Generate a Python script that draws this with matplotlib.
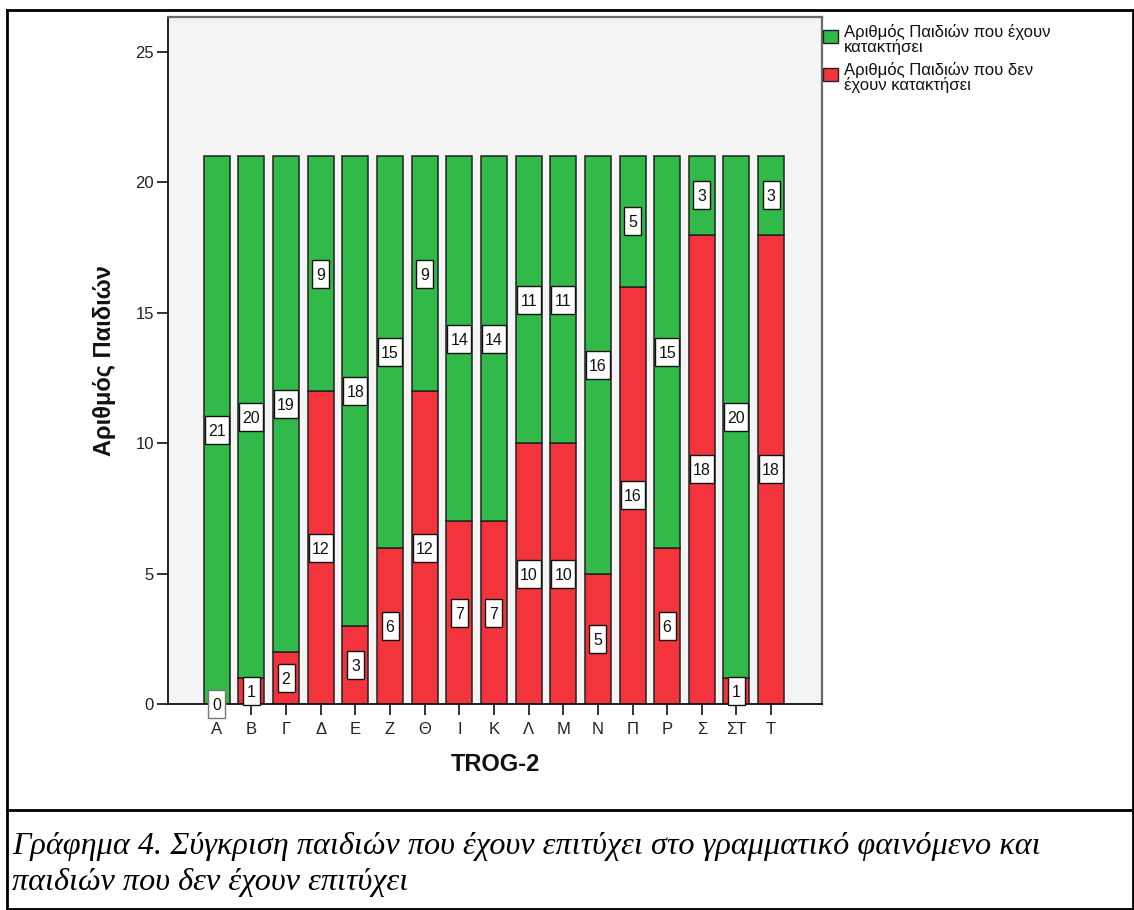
import matplotlib
matplotlib.use('Agg')
import matplotlib.pyplot as plt
from matplotlib.patches import Rectangle
from matplotlib.lines import Line2D
from matplotlib.transforms import ScaledTranslation
import numpy as np

# ---------------- data ----------------
categories = ['Α', 'Β', 'Γ', 'Δ', 'Ε', 'Ζ', 'Θ', 'Ι', 'Κ', 'Λ', 'Μ', 'Ν', 'Π', 'Ρ', 'Σ', 'ΣΤ', 'Τ']
acquired = [21, 20, 19, 9, 18, 15, 9, 14, 14, 11, 11, 16, 5, 15, 3, 20, 3]
not_acquired = [0, 1, 2, 12, 3, 6, 12, 7, 7, 10, 10, 5, 16, 6, 18, 1, 18]
series_labels = ['Αριθμός Παιδιών που έχουν\nκατακτήσει',
                 'Αριθμός Παιδιών που δεν\nέχουν κατακτήσει']
y_ticks = [0, 5, 10, 15, 20, 25]
x_title = 'TROG-2'
y_title = 'Αριθμός Παιδιών'
caption_lines = ['Γράφημα 4. Σύγκριση παιδιών που έχουν επιτύχει στο γραμματικό φαινόμενο και',
                 'παιδιών που δεν έχουν επιτύχει']

# ---------------- style ----------------
plt.rcParams['font.family'] = ['Liberation Sans', 'DejaVu Sans']
GREEN = '#31b94a'
RED = '#f3343d'
EDGE = '#222222'

W, H = 1134, 910
fig = plt.figure(figsize=(W / 100, H / 100), dpi=100)
fig.patch.set_facecolor('white')

def fx(px):
    return px / W

def fy(py):
    return 1 - py / H

ax = fig.add_axes([fx(168), fy(704), fx(822) - fx(168), fy(17) - fy(704)])
ax.set_facecolor('#f4f4f4')

x = np.arange(len(categories))
bar_w = 0.75
b_red = ax.bar(x, not_acquired, width=bar_w, color=RED, edgecolor=EDGE,
               linewidth=1.1, zorder=2)
b_green = ax.bar(x, acquired, bottom=not_acquired, width=bar_w, color=GREEN,
                 edgecolor=EDGE, linewidth=1.1, zorder=2)

ax.set_xlim(-1.41, len(categories) - 1 + 1.47)
ax.set_ylim(0, 26.34)

# value labels in white boxes
def add_label(xc, yc, val):
    s = str(val)
    wpx = 10 + 7 * len(s)
    hpx = 28
    tr = fig.dpi_scale_trans + ScaledTranslation(xc, yc, ax.transData)
    edge = '#777777' if val == 0 else '#111111'
    rect = Rectangle((-wpx / 200, -hpx / 200), wpx / 100, hpx / 100, transform=tr,
                     facecolor='white', edgecolor=edge, linewidth=1.0, zorder=4,
                     clip_on=False)
    ax.add_patch(rect)
    ax.text(xc, yc, s, ha='center', va='center_baseline', fontsize=11.5,
            color='#111111', zorder=5, clip_on=False)

for i in range(len(categories)):
    add_label(x[i], not_acquired[i] / 2, not_acquired[i])
    add_label(x[i], not_acquired[i] + acquired[i] / 2, acquired[i])

# axes styling
ax.set_xticks(x)
ax.set_xticklabels(categories, fontsize=12)
ax.set_yticks(y_ticks)
ax.set_yticklabels([str(t) for t in y_ticks], fontsize=12)
ax.tick_params(axis='x', direction='out', length=8, width=1.3, pad=5, colors='#222222')
ax.tick_params(axis='y', direction='out', length=8, width=1.3, pad=2, colors='#222222')
for t in ax.get_xticklabels() + ax.get_yticklabels():
    t.set_color('#222222')
ax.spines['left'].set_color('#111111')
ax.spines['bottom'].set_color('#111111')
ax.spines['left'].set_linewidth(1.3)
ax.spines['bottom'].set_linewidth(1.3)
ax.spines['top'].set_color('#6a6a6a')
ax.spines['right'].set_color('#6a6a6a')
ax.spines['top'].set_linewidth(1.6)
ax.spines['right'].set_linewidth(1.6)

ax.set_xlabel(x_title, fontsize=17, fontweight='bold', color='#111111')
ax.xaxis.set_label_coords(0.5, -(753 - 704) / 687)
ax.set_ylabel(y_title, fontsize=17, fontweight='bold', color='#111111')
ax.yaxis.set_label_coords(-(168 - 116) / 654, 0.5)

# legend (handle square on the first text line, as in the original)
leg_colors = [GREEN, RED]
for i, (lab, col) in enumerate(zip(series_labels, leg_colors)):
    top = 30 + 38 * i
    fig.patches.append(Rectangle((fx(823), fy(top + 13)), fx(15), 13 / H,
                                 transform=fig.transFigure, facecolor=col,
                                 edgecolor=EDGE, linewidth=1.0))
    fig.text(fx(844), fy(top - 6), lab, ha='left', va='top', fontsize=12,
             linespacing=0.92, color='#111111')

# outer table borders
for (x0, y0, x1, y1) in [(7, 10, 1133, 10), (7, 10, 7, 909), (7, 810, 1133, 810),
                         (1133, 10, 1133, 909), (7, 909, 1133, 909)]:
    fig.add_artist(Line2D([fx(x0), fx(x1)], [fy(y0), fy(y1)], transform=fig.transFigure,
                          color='black', linewidth=2.0, solid_capstyle='projecting'))

# caption
for i, line in enumerate(caption_lines):
    fig.text(fx(12), fy(854 + 36 * i), line, ha='left', va='baseline',
             fontsize=23.2, style='italic', family=['Liberation Serif', 'DejaVu Serif'],
             color='black')

fig.savefig('out.png', dpi=100)
